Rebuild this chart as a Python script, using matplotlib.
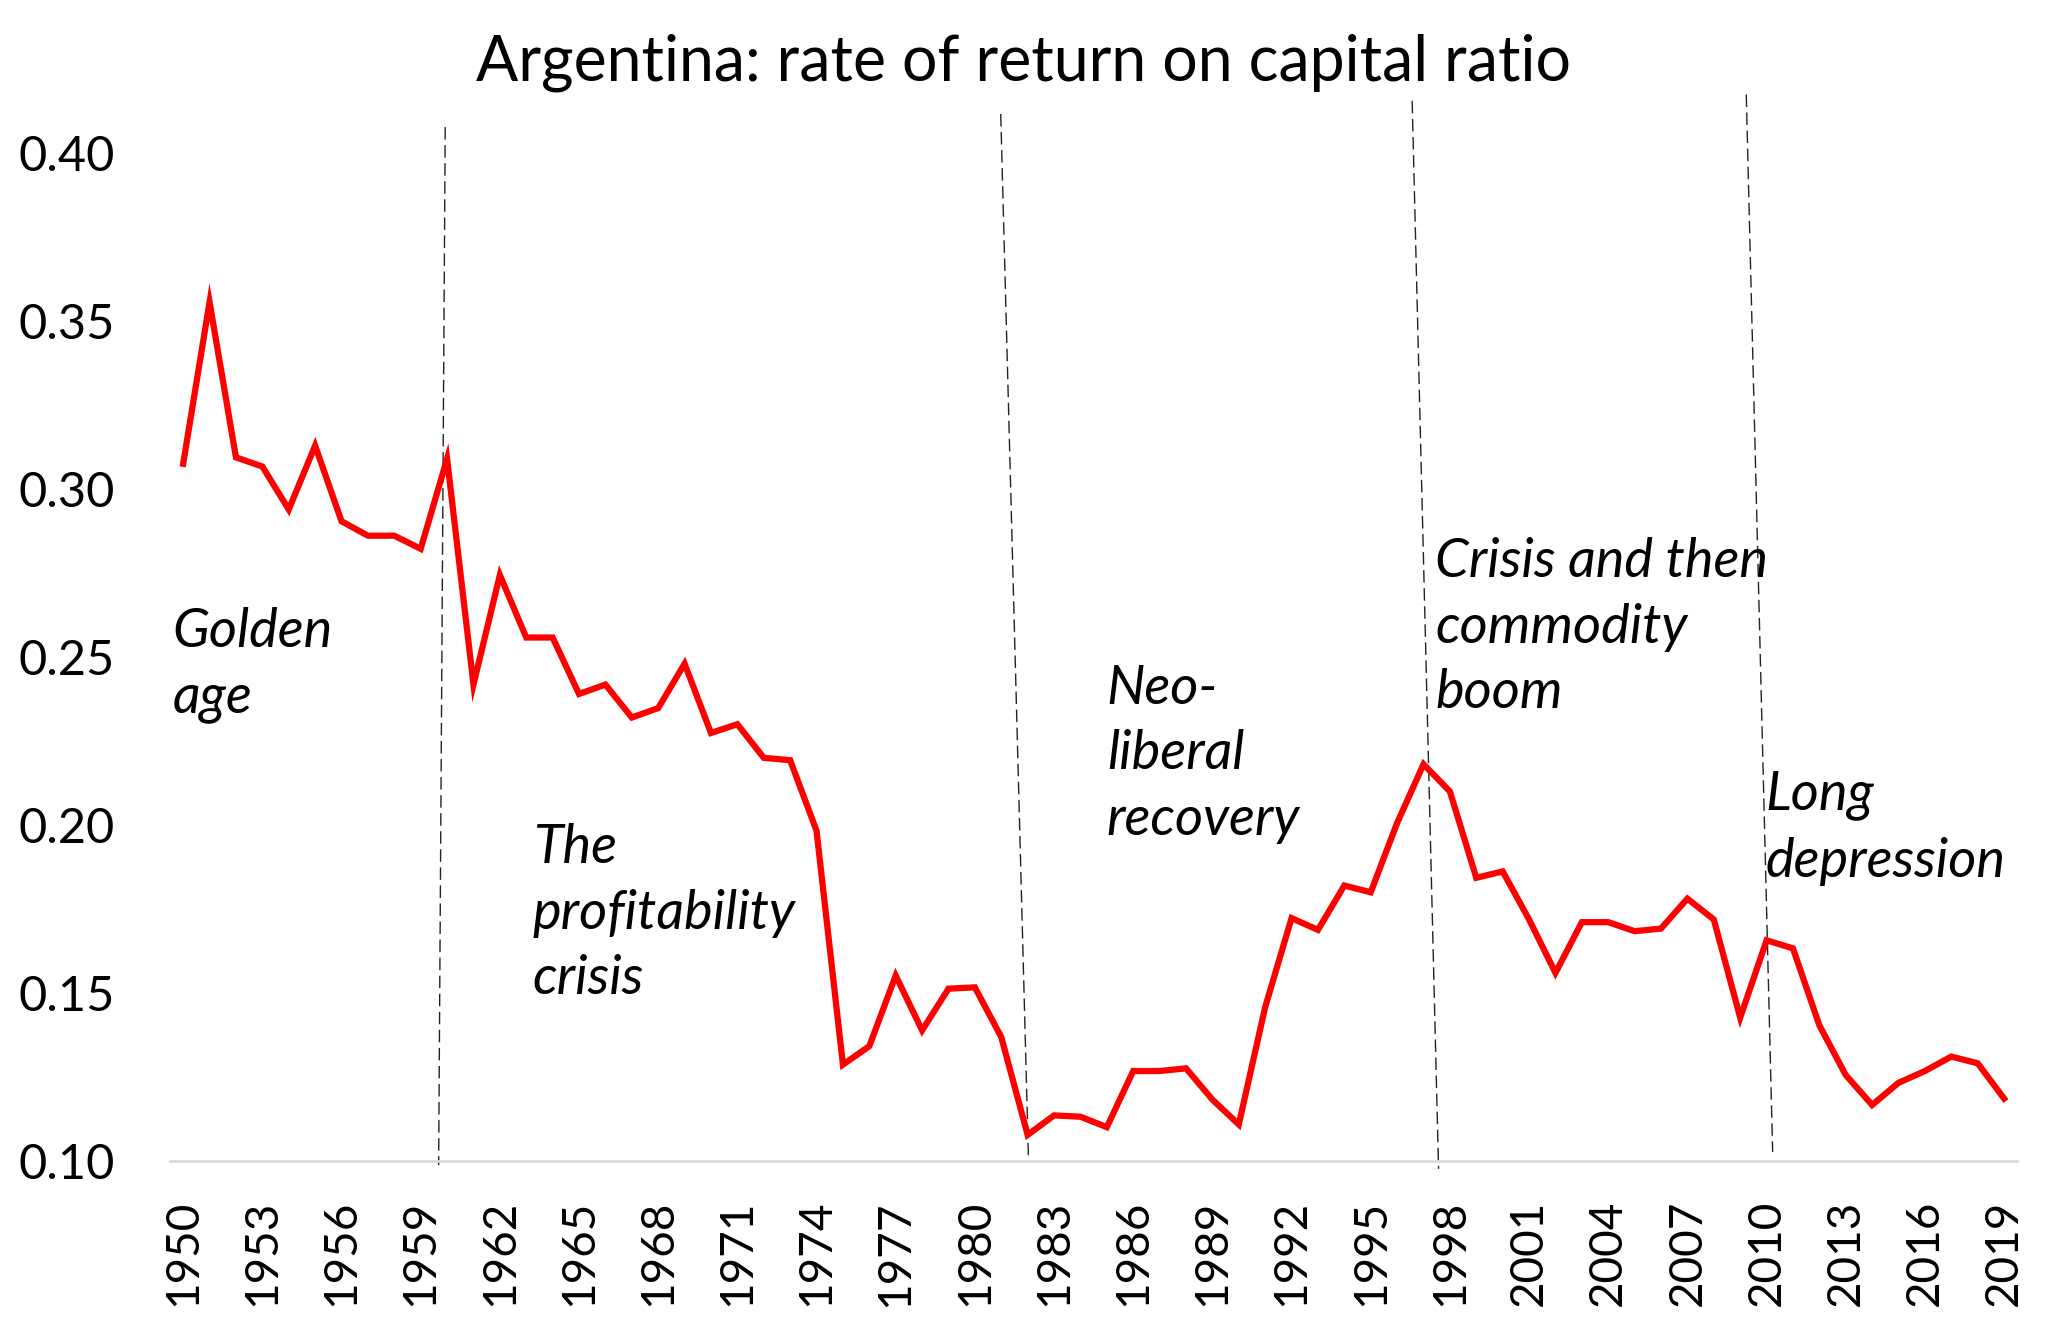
import matplotlib
matplotlib.use('Agg')
import numpy as np
import matplotlib.pyplot as plt

years = list(range(1950, 2020))
rate = [0.3075, 0.3556, 0.3094, 0.3067, 0.2939, 0.3129, 0.2904, 0.2861, 0.2861, 0.2822,
        0.3090, 0.2418, 0.2744, 0.2558, 0.2558, 0.2390, 0.2418, 0.2320, 0.2348, 0.2480,
        0.2274, 0.2300, 0.2200, 0.2193, 0.1983, 0.1287, 0.1342, 0.1552, 0.1389, 0.1513,
        0.1517, 0.1369, 0.1078, 0.1136, 0.1132, 0.1101, 0.1268, 0.1268, 0.1276, 0.1183,
        0.1109, 0.1458, 0.1723, 0.1688, 0.1820, 0.1800, 0.2006, 0.2181, 0.2100, 0.1843,
        0.1862, 0.1719, 0.1560, 0.1711, 0.1711, 0.1684, 0.1692, 0.1781, 0.1719, 0.1427,
        0.1657, 0.1633, 0.1404, 0.1256, 0.1167, 0.1233, 0.1268, 0.1311, 0.1291, 0.1186]

yticks = [0.10, 0.15, 0.20, 0.25, 0.30, 0.35, 0.40]
xtick_years = years[::3]

# period boundary lines (drawn by hand in the original, so a bit slanted)
break_x_top = [1959.93, 1980.98, 1996.57, 2009.23]
break_x_bot = [1959.68, 1982.03, 1997.57, 2010.23]
break_y_top = [0.4077, 0.4116, 0.4155, 0.4174]
break_y_bot = [0.0988, 0.1008, 0.0977, 0.1027]

period_labels = ['Golden\nage', 'The\nprofitability\ncrisis', 'Neo-\nliberal\nrecovery',
                 'Crisis and then\ncommodity\nboom', 'Long\ndepression']
label_x = [1949.6, 1963.25, 1985.0, 1997.45, 2009.95]
label_y = [0.2476, 0.1738, 0.2212, 0.2589, 0.1991]

plt.rcParams['font.family'] = ['Lato', 'DejaVu Sans']

fig = plt.figure(figsize=(20.48, 13.30), dpi=100)
ax = fig.add_axes([0.083, 0.127, 0.902, 0.758])

ax.plot(years, rate, color='#ff0000', lw=4.5, solid_joinstyle='miter', zorder=3)

for xt, xb, yt, yb in zip(break_x_top, break_x_bot, break_y_top, break_y_bot):
    ax.plot([xt, xb], [yt, yb], color='#222222', lw=1.0, dashes=(9, 4), clip_on=False, zorder=2)

for txt, x, y in zip(period_labels, label_x, label_y):
    ax.text(x, y, txt, ha='left', va='center', fontsize=39, style='italic',
            linespacing=1.42, zorder=4)

ax.set_xlim(1949.5, 2019.5)
ax.set_ylim(0.10, 0.40)
ax.set_yticks(yticks)
ax.set_yticklabels(['%.2f' % v for v in yticks])
ax.set_xticks(xtick_years)
ax.set_xticklabels([str(y) for y in xtick_years], rotation=90)
ax.tick_params(axis='y', length=0, pad=40, labelsize=35)
ax.tick_params(axis='x', length=0, pad=28, labelsize=33)

for s in ['top', 'right', 'left']:
    ax.spines[s].set_visible(False)
ax.spines['bottom'].set_color('#d9d9d9')
ax.spines['bottom'].set_linewidth(2.0)

fig.text(0.5, 1 - 63 / 1330, 'Argentina: rate of return on capital ratio',
         ha='center', va='center', fontsize=45)

plt.savefig('out.png', dpi=100)
plt.close()
